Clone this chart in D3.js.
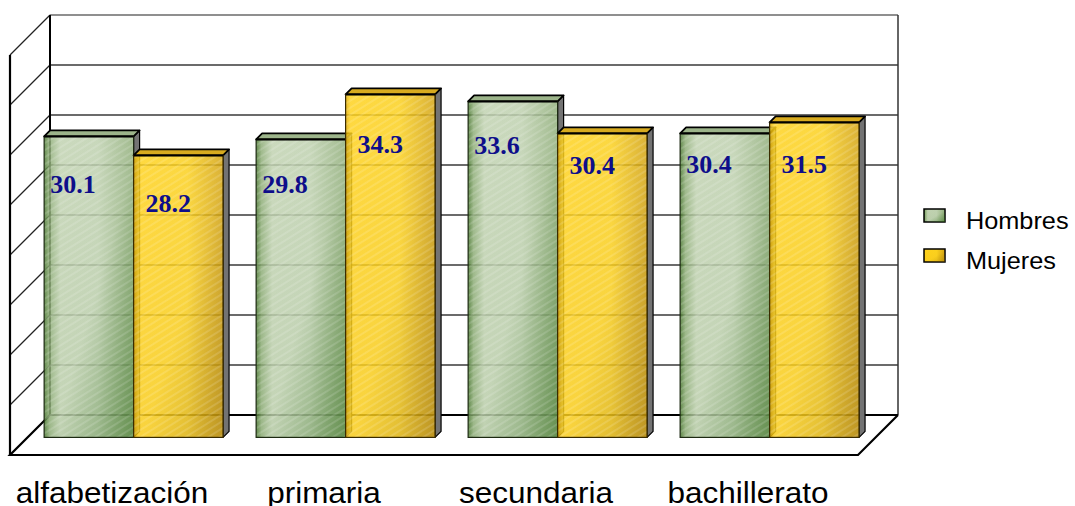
<!DOCTYPE html>
<html>
<head>
<meta charset="utf-8">
<script src="https://cdn.jsdelivr.net/npm/d3@7/dist/d3.min.js"></script>
<style>
  html, body { margin: 0; padding: 0; background: #fff; }
  svg { display: block; }
</style>
</head>
<body>
<svg id="chart" width="1075" height="506"></svg>
<script>
// Data
const categories = ["alfabetización", "primaria", "secundaria", "bachillerato"];
const seriesNames = ["Hombres", "Mujeres"];
const hombres = [30.1, 29.8, 33.6, 30.4];
const mujeres = [28.2, 34.3, 30.4, 31.5];
const yTicks = [0, 5, 10, 15, 20, 25, 30, 35, 40];

const seriesValues = [hombres, mujeres];

const svg = d3.select("#chart");

// Oblique projection: depth z in [0,1] shifts points right and up
const DX = 40, DY = 40;
const proj = (x, y, z) => [x + z * DX, y - z * DY];

// Front-plane scales
const x0 = d3.scaleBand().domain(categories).range([10, 858])
  .paddingInner(0.156).paddingOuter(0.078);
const x1 = d3.scaleBand().domain(seriesNames).range([0, x0.bandwidth()]);
const y = d3.scaleLinear().domain([0, 40]).range([455, 55]);

const defs = svg.append("defs");

// Face gradients
function linGrad(id, stops, x2 = 1, y2 = 0) {
  const g = defs.append("linearGradient").attr("id", id)
    .attr("x1", 0).attr("y1", 0).attr("x2", x2).attr("y2", y2);
  stops.forEach(([o, c, a]) => g.append("stop").attr("offset", o)
    .attr("stop-color", c).attr("stop-opacity", a == null ? 1 : a));
}
linGrad("gH", [[0, "#46752c"], [0.06, "#8fae78"], [0.18, "#c2d3b2"], [0.6, "#c3d4b4"], [1, "#97b381"]]);
linGrad("gM", [[0, "#e0aa00"], [0.05, "#ffd21c"], [0.6, "#ffd41f"], [1, "#d8a814"]]);
linGrad("shH", [[0, "#2f6a18", 0], [0.55, "#2f6a18", 0.05], [1, "#2f6a18", 0.55]], 1, 1);
linGrad("shM", [[0, "#8a6400", 0], [0.55, "#8a6400", 0.05], [1, "#8a6400", 0.4]], 1, 1);

// Fine diagonal texture on the bar faces
const pat = defs.append("pattern").attr("id", "hatch")
  .attr("patternUnits", "userSpaceOnUse").attr("width", 6).attr("height", 6)
  .attr("patternTransform", "rotate(-32)");
pat.append("line").attr("x1", 0).attr("y1", 1).attr("x2", 6).attr("y2", 1)
  .attr("stroke", "#ffffff").attr("stroke-opacity", 0.22).attr("stroke-width", 1.2);

const faceFill = ["url(#gH)", "url(#gM)"];
const shadeFill = ["url(#shH)", "url(#shM)"];
const topFill = ["#9cb48a", "#d8ab1f"];
const sideFill = "#737373";

// Walls
const walls = svg.append("g");
const backLeft = proj(10, 0, 1)[0], backRight = proj(858, 0, 1)[0];

// back wall gridlines and left wall lines
yTicks.forEach(t => {
  const [bx, by] = proj(10, y(t), 1);
  if (t > 0) {
    walls.append("line").attr("x1", bx).attr("y1", by).attr("x2", backRight).attr("y2", by)
      .attr("stroke", t === 40 ? "#6a6a6a" : "#3a3a3a").attr("stroke-width", 1.3);
    walls.append("line").attr("x1", bx).attr("y1", by).attr("x2", 10).attr("y2", y(t))
      .attr("stroke", "#222").attr("stroke-width", 1.2);
  }
});
// back wall right edge
walls.append("line").attr("x1", backRight).attr("y1", proj(0, y(40), 1)[1])
  .attr("x2", backRight).attr("y2", proj(0, y(0), 1)[1])
  .attr("stroke", "#333").attr("stroke-width", 1.5);
// back wall left edge
walls.append("line").attr("x1", backLeft).attr("y1", proj(0, y(40), 1)[1])
  .attr("x2", backLeft).attr("y2", proj(0, y(0), 1)[1])
  .attr("stroke", "#000").attr("stroke-width", 2);
// back wall base
walls.append("line").attr("x1", backLeft).attr("y1", proj(0, y(0), 1)[1])
  .attr("x2", backRight).attr("y2", proj(0, y(0), 1)[1])
  .attr("stroke", "#000").attr("stroke-width", 2.2);
// floor outline
const floorPts = [proj(10, y(0), 1), [10, y(0)], [858, y(0)], proj(858, y(0), 1)];
walls.append("polyline").attr("points", floorPts.map(p => p.join(",")).join(" "))
  .attr("fill", "none").attr("stroke", "#000").attr("stroke-width", 2.2);
// left wall front edge
walls.append("line").attr("x1", 10).attr("y1", y(40)).attr("x2", 10).attr("y2", y(0))
  .attr("stroke", "#000").attr("stroke-width", 2.2);

// Bars
const zF = 0.44, zB = 0.59;
const bars = svg.append("g");
categories.forEach((cat, ci) => {
  seriesNames.forEach((s, si) => {
    const v = seriesValues[si][ci];
    const xl = x0(cat) + x1(s), xr = xl + x1.bandwidth();
    const [fx0, fyTop] = proj(xl, y(v), zF);
    const [fx1, fyBase] = proj(xr, y(0), zF);
    const ddx = (zB - zF) * DX, ddy = (zB - zF) * DY;
    const g = bars.append("g");
    // side face
    g.append("polygon").attr("points", [[fx1, fyTop], [fx1 + ddx, fyTop - ddy], [fx1 + ddx, fyBase - ddy], [fx1, fyBase]].map(p => p.join(",")).join(" "))
      .attr("fill", sideFill).attr("stroke", "#000").attr("stroke-width", 1.2).attr("stroke-linejoin", "round");
    // top face
    g.append("polygon").attr("points", [[fx0, fyTop], [fx0 + ddx, fyTop - ddy], [fx1 + ddx, fyTop - ddy], [fx1, fyTop]].map(p => p.join(",")).join(" "))
      .attr("fill", topFill[si]).attr("stroke", "#000").attr("stroke-width", 1.8).attr("stroke-linejoin", "round");
    // front face
    const fr = () => g.append("rect").attr("x", fx0).attr("y", fyTop)
      .attr("width", fx1 - fx0).attr("height", fyBase - fyTop);
    fr().attr("fill", faceFill[si]).attr("fill-opacity", 0.84);
    fr().attr("fill", shadeFill[si]);
    fr().attr("fill", "url(#hatch)");
    fr().attr("fill", "none").attr("stroke", si === 0 ? "#1d2a12" : "#3a2c00")
      .attr("stroke-width", 1.2);
    g.append("line").attr("x1", fx0).attr("y1", fyTop).attr("x2", fx1).attr("y2", fyTop)
      .attr("stroke", "#000").attr("stroke-width", 2);
  });
});

// Value labels, placed inside the bars below their top edge
const labelDx = [6, 12];
const labelDy = [[57, 54, 53, 40], [57, 59, 41, 51]];
const labels = svg.append("g");
categories.forEach((cat, ci) => {
  seriesNames.forEach((s, si) => {
    const v = seriesValues[si][ci];
    const [lx, ty] = proj(x0(cat) + x1(s), y(v), zF);
    labels.append("text").attr("x", lx + labelDx[si]).attr("y", ty + labelDy[si][ci])
      .attr("font-family", "'Liberation Serif', 'Times New Roman', serif")
      .attr("font-weight", "bold").attr("font-size", 26)
      .attr("fill", "#0e0e8a").text(v.toFixed(1));
  });
});

// Category axis labels
const axisG = svg.append("g");
categories.forEach(cat => {
  const cx = x0(cat) + x0.bandwidth() / 2 - 4;
  axisG.append("text").attr("transform", `translate(${cx},503) scale(1.05,1)`)
    .attr("text-anchor", "middle")
    .attr("font-family", "'Liberation Sans', Arial, sans-serif")
    .attr("font-size", 30).attr("fill", "#000").text(cat);
});

// Legend
const legend = svg.append("g");
seriesNames.forEach((s, si) => {
  const ly = 209 + si * 40;
  legend.append("rect").attr("x", 924).attr("y", ly).attr("width", 21).attr("height", 13)
    .attr("fill", faceFill[si]).attr("stroke", "#000").attr("stroke-width", 1.5);
  legend.append("rect").attr("x", 924).attr("y", ly).attr("width", 21).attr("height", 13)
    .attr("fill", shadeFill[si]);
  legend.append("text").attr("transform", `translate(966,${ly + 20}) scale(1.1,1)`)
    .attr("font-family", "'Liberation Sans', Arial, sans-serif")
    .attr("font-size", 23).attr("fill", "#000").text(s);
});
</script>
</body>
</html>
